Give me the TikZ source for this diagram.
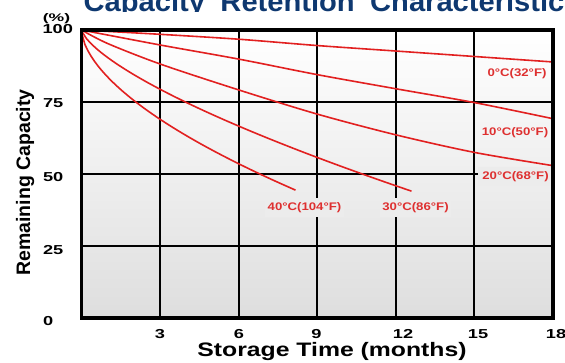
\documentclass[tikz,border=0pt]{standalone}
\usepackage{fontspec}
\setmainfont{Liberation Sans}
\definecolor{curvered}{RGB}{226,32,32}
\definecolor{labred}{RGB}{222,48,48}
\definecolor{titleblue}{RGB}{14,56,112}
\definecolor{bgbot}{RGB}{222,222,222}
\definecolor{labfill}{RGB}{236,236,236}
\begin{document}
\begin{tikzpicture}[x=1pt,y=-1pt,
  ticklab/.style={font=\fontsize{13}{13}\selectfont\bfseries, xscale=1.4, inner sep=0pt},
  templab/.style={font=\fontsize{11}{11}\selectfont\bfseries, text=labred, xscale=1.2, inner xsep=2pt, inner ysep=4.5pt},
  gridline/.style={line width=2.2pt, black},
  frameline/.style={line width=3.2pt, black},
  curve/.style={line width=1.6pt, curvered, line join=round}]
\useasboundingbox (0,0) rectangle (565,363);
% title (cropped)
\begin{scope}
\clip (0,0) rectangle (565,11.6);
\node[anchor=base west, inner sep=0pt, text=titleblue, xscale=1.04, font=\fontsize{28}{28}\selectfont\bfseries] (title) at (83.5,11.3) {Capacity\hspace{0.53em}Retention\hspace{0.53em}Characteristic};
\end{scope}
% plot area
\begin{scope}[shift={(81.5,318)}, x=26.19pt, y=2.88pt]
\shade[top color=white, bottom color=bgbot] (0,0) rectangle (18,100);
\foreach \t in {3,6,...,15} \draw[gridline] (\t,0) -- (\t,100);
\foreach \v in {25,50,75} \draw[gridline] (0,\v) -- (18,\v);
\draw[curve] plot[smooth] coordinates {(0,100) (3,98.5) (6,96.8) (9,94.6) (12,92.7) (15,90.8) (18,88.9)};
\draw[curve] plot[smooth] coordinates {(0,100) (3,94.8) (6,89.9) (9,84.5) (12,79.6) (15,74.8) (18,69.2)};
\draw[curve] plot[smooth] coordinates {(0,100) (1,95.3) (3,88.2) (6,79.2) (9,70.8) (12,63.6) (15,57.5) (18,52.9)};
\draw[curve] (0,100) -- plot[domain=0.02:12.6, samples=70] (\x,{100-9.57*(\x)^0.697});
\draw[curve] (0,100) -- plot[domain=0.01:8.17, samples=70] (\x,{100-16.34*(\x)^0.583});
\end{scope}
% curve labels
\node[templab] (l0) at (517,74) {0°C(32°F)};
\node[templab] (l10) at (515,133) {10°C(50°F)};
\node[templab, fill=labfill, minimum width=62pt] (l20) at (515.5,176.5) {20°C(68°F)};
\node[templab, fill=labfill] (l40) at (304.5,207.5) {40°C(104°F)};
\node[templab, fill=labfill] (l30) at (415.5,207.5) {30°C(86°F)};
% frame
\draw[frameline] (81.5,30) rectangle (553,318);
% y ticks
\node[ticklab, anchor=west] (y100) at (42.3,28.6) {100};
\node[ticklab, anchor=west] (y75) at (42.8,103) {75};
\node[ticklab, anchor=west] (y50) at (42.8,177) {50};
\node[ticklab, anchor=west] (y25) at (42.8,250.5) {25};
\node[ticklab, anchor=west] (y0) at (42.8,321) {0};
\node[font=\fontsize{11}{11}\selectfont\bfseries, xscale=1.6, inner sep=0pt] (pct) at (56.5,18.2) {(\%)};
% x ticks
\node[ticklab] (x3) at (160,334) {3};
\node[ticklab] (x6) at (239,334) {6};
\node[ticklab] (x9) at (316.5,334) {9};
\node[ticklab] (x12) at (403,334) {12};
\node[ticklab] (x15) at (478,334) {15};
\node[ticklab] (x18) at (556,334) {18};
% axis titles
\node[anchor=base, rotate=90, inner sep=0pt, font=\fontsize{19.5}{20}\selectfont\bfseries] (ylab) at (30,182.5) {Remaining Capacity};
\node[anchor=base, xscale=1.27, inner sep=0pt, font=\fontsize{19.5}{20}\selectfont\bfseries] (xlab) at (332,356.5) {Storage Time (months)};
\end{tikzpicture}
\end{document}
